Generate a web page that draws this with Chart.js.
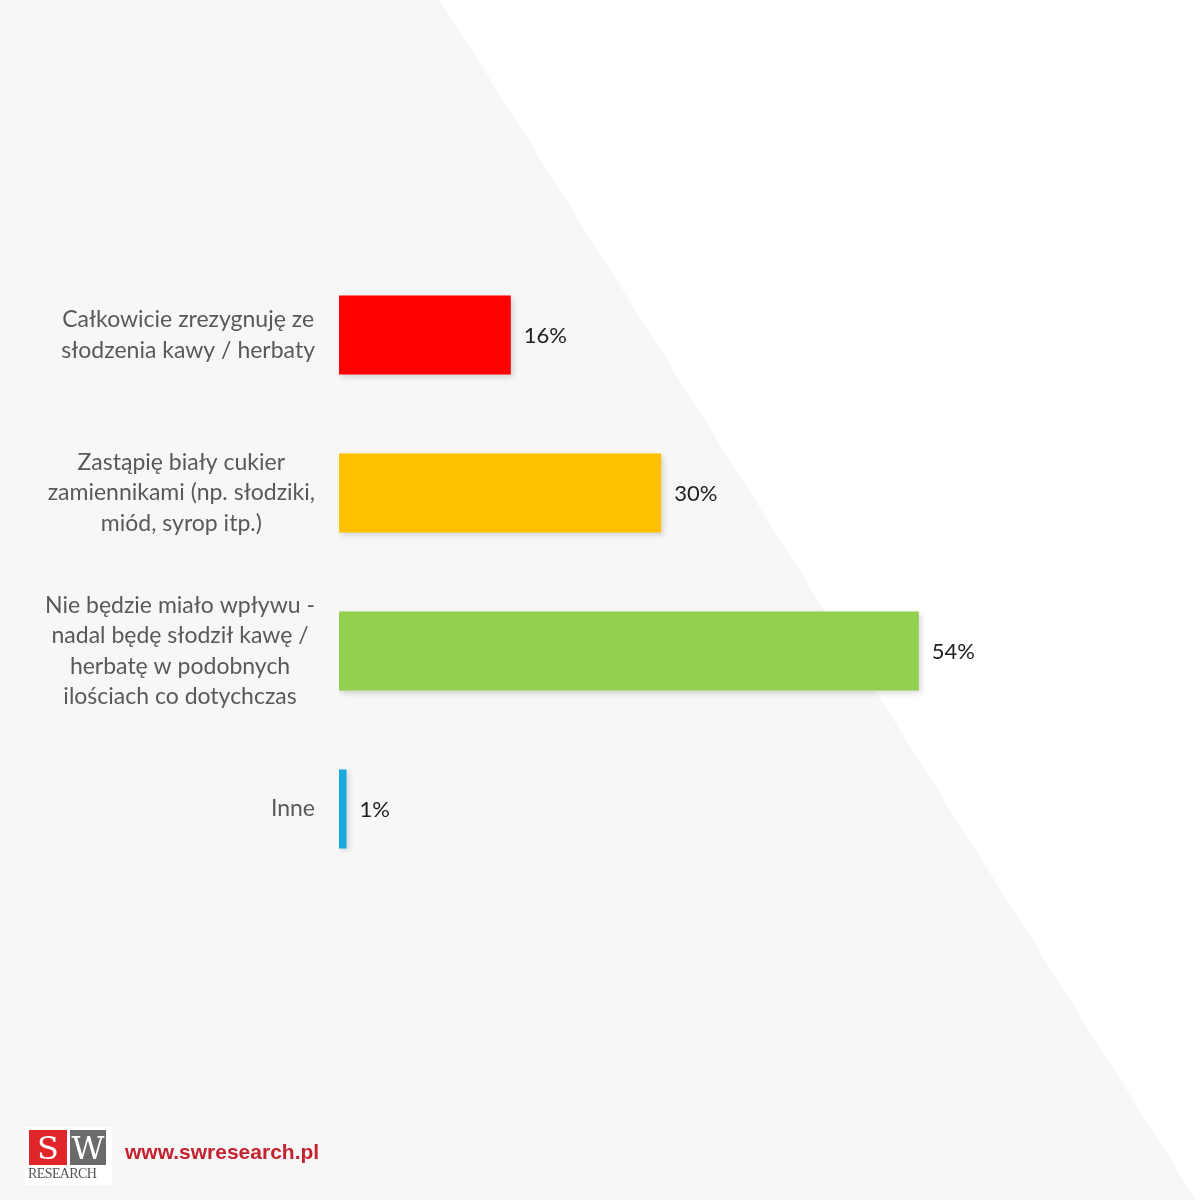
<!DOCTYPE html>
<html>
<head>
<meta charset="utf-8">
<script src="https://cdn.jsdelivr.net/npm/chart.js@4"></script>
<style>
  html, body { margin: 0; padding: 0; background: #f7f7f7; }
  #wrap { position: relative; width: 1200px; height: 1200px; }
  #logo { position: absolute; left: 25px; top: 1127px; width: 87px; height: 58px; background: #fff; }
  .box { position: absolute; top: 3px; height: 35px; color: #fff; font: 32px "DejaVu Serif", serif; text-align: center; line-height: 36px; }
  #s { left: 4px; width: 38px; background: #e0262b; }
  #w { left: 45px; width: 36px; background: #6b6b6b; }
  #res { position: absolute; left: 3px; top: 39px; font: 14px "Liberation Serif", serif; color: #555; letter-spacing: -0.6px; }
  #url { position: absolute; left: 125px; top: 1140px; font: bold 21px "Liberation Sans", Arial, sans-serif; color: #c4222e; }
</style>
</head>
<body>
<div id="wrap">
  <canvas id="myChart" width="1200" height="1200"></canvas>
  <div id="logo"><div class="box" id="s">S</div><div class="box" id="w">W</div><div id="res">RESEARCH</div></div>
  <div id="url">www.swresearch.pl</div>
</div>
<script>
const labels = [
  ['Całkowicie zrezygnuję ze', 'słodzenia kawy / herbaty'],
  ['Zastąpię biały cukier', 'zamiennikami (np. słodziki,', 'miód, syrop itp.)'],
  ['Nie będzie miało wpływu -', 'nadal będę słodził kawę /', 'herbatę w podobnych', 'ilościach co dotychczas'],
  ['Inne']
];
const values = [16, 30, 54, 0.7];
const colors = ['#ff0000', '#ffc000', '#92d050', '#1ba7e0'];

const FONT = 'Lato, "Open Sans", sans-serif';

// background: grey with white triangle on the right
const bgPlugin = {
  id: 'bg',
  beforeDraw(chart) {
    const c = chart.ctx;
    c.save();
    c.fillStyle = '#f7f7f7';
    c.fillRect(0, 0, chart.width, chart.height);
    c.fillStyle = '#ffffff';
    c.beginPath();
    c.moveTo(440, 0);
    c.lineTo(1200, 0);
    c.lineTo(1200, 1200);
    c.lineTo(1196, 1200);
    c.closePath();
    c.fill();
    c.restore();
  }
};

const shadowPlugin = {
  id: 'shadow',
  beforeDatasetsDraw(chart) {
    const c = chart.ctx;
    c.save();
    c.shadowColor = 'rgba(0,0,0,0.16)';
    c.shadowBlur = 6;
    c.shadowOffsetX = 2;
    c.shadowOffsetY = 2;
  },
  afterDatasetsDraw(chart) {
    chart.ctx.restore();
  }
};

const valueLabels = {
  id: 'valueLabels',
  afterDatasetsDraw(chart) {
    const c = chart.ctx;
    const meta = chart.getDatasetMeta(0);
    c.save();
    c.fillStyle = '#1e1e1e';
    c.font = '22px ' + FONT;
    c.textBaseline = 'middle';
    meta.data.forEach((bar, i) => {
      c.fillText(Math.round(values[i]) + '%', bar.x + 13, bar.y + 1);
    });
    c.restore();
  }
};

// category labels: block right-aligned, lines centred inside the block
const catLabels = {
  id: 'catLabels',
  afterDraw(chart) {
    const c = chart.ctx;
    const y = chart.scales.y;
    const right = y.right - 24;
    const lh = 30.5;
    c.save();
    c.fillStyle = '#595959';
    c.font = '23px ' + FONT;
    c.textBaseline = 'middle';
    c.textAlign = 'center';
    labels.forEach((lines, i) => {
      const w = Math.max(...lines.map(l => c.measureText(l).width));
      const cx = right - w / 2;
      const cy = y.getPixelForValue(i);
      lines.forEach((l, j) => {
        c.fillText(l, cx, cy + (j - (lines.length - 1) / 2) * lh);
      });
    });
    c.restore();
  }
};

const ctx = document.getElementById('myChart');

new Chart(ctx, {
  type: 'bar',
  data: {
    labels: labels,
    datasets: [{
      data: values,
      backgroundColor: colors,
      borderWidth: 0,
      barPercentage: 1,
      categoryPercentage: 0.5
    }]
  },
  plugins: [bgPlugin, shadowPlugin, valueLabels, catLabels],
  options: {
    indexAxis: 'y',
    responsive: false,
    animation: false,
    layout: { padding: { top: 256, bottom: 312, left: 0, right: 2 } },
    plugins: {
      legend: { display: false },
      tooltip: { enabled: false }
    },
    scales: {
      x: {
        display: false,
        min: 0,
        max: 80
      },
      y: {
        grid: { display: false, drawTicks: false },
        border: { display: false },
        afterFit(scale) { scale.width = 339; },
        ticks: { display: false }
      }
    }
  }
});
</script>
</body>
</html>
